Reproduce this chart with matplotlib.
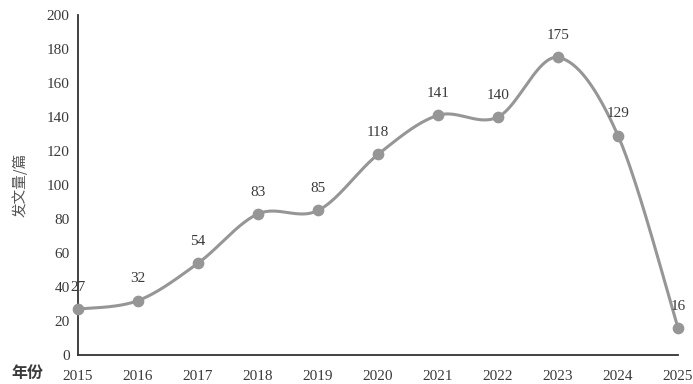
import matplotlib

matplotlib.use("Agg")
import matplotlib.pyplot as plt
import numpy as np

years = [2015, 2016, 2017, 2018, 2019, 2020, 2021, 2022, 2023, 2024, 2025]
counts = [27, 32, 54, 83, 85, 118, 141, 140, 175, 129, 16]
y_ticks = [0, 20, 40, 60, 80, 100, 120, 140, 160, 180, 200]

LINE = "#969696"
TEXT = "#3a3a3a"
SERIF = ["Liberation Serif", "DejaVu Serif"]
CJK = ["Noto Sans CJK SC", "DejaVu Sans"]


def smooth_curve(xs, ys, steps=40):
    """Catmull-Rom style bezier, similar to spreadsheet smoothed lines."""
    xs = np.asarray(xs, dtype=float)
    ys = np.asarray(ys, dtype=float)
    px = np.concatenate([[xs[0]], xs, [xs[-1]]])
    py = np.concatenate([[ys[0]], ys, [ys[-1]]])
    out_x, out_y = [], []
    t = np.linspace(0, 1, steps)
    for i in range(1, len(px) - 2):
        p0 = np.array([px[i], py[i]])
        p3 = np.array([px[i + 1], py[i + 1]])
        c1 = p0 + (np.array([px[i + 1], py[i + 1]]) - np.array([px[i - 1], py[i - 1]])) / 6
        c2 = p3 - (np.array([px[i + 2], py[i + 2]]) - np.array([px[i], py[i]])) / 6
        b = ((1 - t) ** 3)[:, None] * p0 + (3 * (1 - t) ** 2 * t)[:, None] * c1 \
            + (3 * (1 - t) * t ** 2)[:, None] * c2 + (t ** 3)[:, None] * p3
        out_x.extend(b[:, 0])
        out_y.extend(b[:, 1])
    return np.array(out_x), np.array(out_y)


fig = plt.figure(figsize=(6.93, 3.84), dpi=100)
ax = fig.add_axes([0.1126, 0.0755, 0.8658, 0.8855])

sx, sy = smooth_curve(years, counts)
ax.plot(sx, sy, color=LINE, linewidth=2.2, clip_on=False, zorder=2)
ax.scatter(years, counts, s=55, color=LINE, zorder=3, clip_on=False)

for x, y in zip(years, counts):
    ax.annotate(str(y), (x, y), xytext=(0, 11), textcoords="offset points",
                ha="center", va="bottom", fontsize=11, color=TEXT, family=SERIF)

ax.set_xlim(2015, 2025)
ax.set_ylim(0, 200)
ax.set_xticks(years)
ax.set_xticklabels([str(y) for y in years], family=SERIF, fontsize=11, color=TEXT)
ax.set_yticks(y_ticks)
ax.set_yticklabels([str(v) for v in y_ticks], family=SERIF, fontsize=11, color=TEXT)
ax.tick_params(axis="x", length=0, pad=11)
ax.tick_params(axis="y", length=0, pad=6)

for side in ("top", "right"):
    ax.spines[side].set_visible(False)
for side in ("left", "bottom"):
    ax.spines[side].set_color("#333333")
    ax.spines[side].set_linewidth(1.3)

ax.set_ylabel("发文量/篇", family=CJK, fontsize=10.5, color="#555555", labelpad=14)
fig.text(0.016, 0.008, "年份", family=CJK, fontsize=11.5, fontweight="bold", color=TEXT,
         ha="left", va="bottom")

fig.savefig("out.png", dpi=100)
